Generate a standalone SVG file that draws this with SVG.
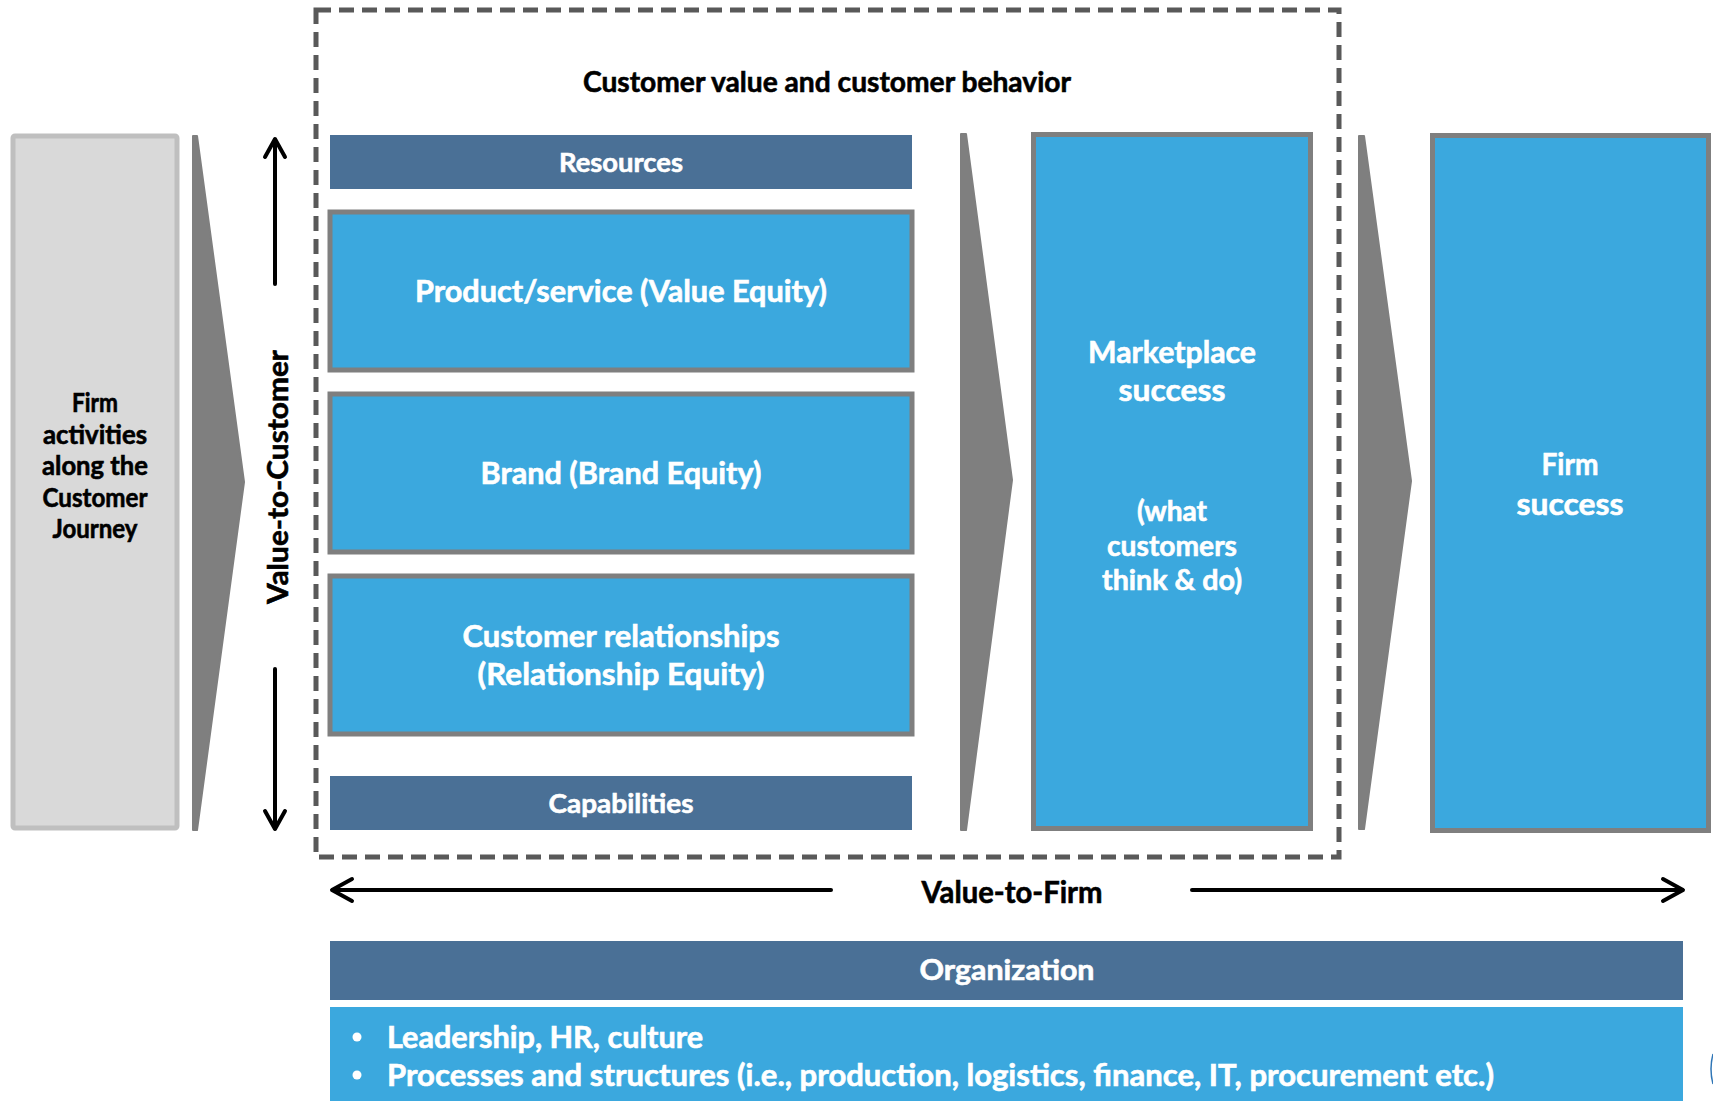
<svg xmlns="http://www.w3.org/2000/svg" width="1713" height="1101" viewBox="0 0 1713 1101">
<style>
text{font-family:Lato,"Open Sans","Liberation Sans",sans-serif;font-weight:700;stroke-width:0.6;}
.w{fill:#ffffff;}
text.w{stroke:#ffffff;}
.k{fill:#000000;}
text.k{stroke:#000000;}
.c{text-anchor:middle;}
.light{fill:#3ba8de;}
.dark{fill:#4a7096;}
.box{fill:#3ba8de;stroke:#7f7f7f;stroke-width:5;}
.chev{fill:#7f7f7f;stroke:#7f7f7f;stroke-width:2;stroke-linejoin:round;}
.arr{fill:none;stroke:#000;stroke-width:4;stroke-linecap:round;stroke-linejoin:round;}
</style>
<rect width="1713" height="1101" fill="#ffffff"/>

<g id="frame">
<rect x="316" y="10" width="1023" height="847" fill="none" stroke="#595959" stroke-width="5" stroke-dasharray="15 8"/>
<text class="k c" x="827" y="92" font-size="29" textLength="488" lengthAdjust="spacingAndGlyphs">Customer value and customer behavior</text>
</g>

<g id="firm-activities">
<rect x="13" y="136" width="164" height="692" rx="2" fill="#d9d9d9" stroke="#bfbfbf" stroke-width="5"/>
<text class="k c" font-size="26" x="95" y="412" textLength="46" lengthAdjust="spacingAndGlyphs">Firm</text>
<text class="k c" font-size="26" x="95" y="443.5" textLength="104" lengthAdjust="spacingAndGlyphs">activities</text>
<text class="k c" font-size="26" x="95" y="475" textLength="106" lengthAdjust="spacingAndGlyphs">along the</text>
<text class="k c" font-size="26" x="95" y="506.5" textLength="105" lengthAdjust="spacingAndGlyphs">Customer</text>
<text class="k c" font-size="26" x="95" y="538" textLength="85" lengthAdjust="spacingAndGlyphs">Journey</text>
</g>

<g id="value-to-customer">
<text class="k c" font-size="29" transform="translate(288,477) rotate(-90)" x="0" y="0" textLength="254" lengthAdjust="spacingAndGlyphs">Value-to-Customer</text>
</g>

<g id="resources">
<rect class="dark" x="330" y="135" width="582" height="54"/>
<text class="w c" font-size="27" x="621" y="172" textLength="124" lengthAdjust="spacingAndGlyphs">Resources</text>
</g>

<g id="product-service">
<rect class="box" x="330" y="212" width="582" height="158"/>
<text class="w c" font-size="30" x="621" y="302" textLength="412" lengthAdjust="spacingAndGlyphs">Product/service (Value Equity)</text>
</g>

<g id="brand">
<rect class="box" x="330" y="394" width="582" height="158"/>
<text class="w c" font-size="30" x="621" y="484" textLength="281" lengthAdjust="spacingAndGlyphs">Brand (Brand Equity)</text>
</g>

<g id="customer-relationships">
<rect class="box" x="330" y="576" width="582" height="158"/>
<text class="w c" font-size="30" x="621" y="647" textLength="317" lengthAdjust="spacingAndGlyphs">Customer relationships</text>
<text class="w c" font-size="30" x="621" y="685" textLength="287" lengthAdjust="spacingAndGlyphs">(Relationship Equity)</text>
</g>

<g id="capabilities">
<rect class="dark" x="330" y="776" width="582" height="54"/>
<text class="w c" font-size="27" x="621" y="813" textLength="145" lengthAdjust="spacingAndGlyphs">Capabilities</text>
</g>

<g id="marketplace-success">
<rect class="box" x="1033.5" y="134.5" width="277" height="694"/>
<text class="w c" font-size="31" x="1172" y="363" textLength="168" lengthAdjust="spacingAndGlyphs">Marketplace</text>
<text class="w c" font-size="31" x="1172" y="401" textLength="107" lengthAdjust="spacingAndGlyphs">success</text>
<text class="w c" font-size="28" x="1172" y="521" textLength="70" lengthAdjust="spacingAndGlyphs">(what</text>
<text class="w c" font-size="28" x="1172" y="556" textLength="130" lengthAdjust="spacingAndGlyphs">customers</text>
<text class="w c" font-size="28" x="1172" y="590" textLength="140" lengthAdjust="spacingAndGlyphs">think &amp; do)</text>
</g>

<g id="firm-success">
<rect class="box" x="1432.5" y="135.5" width="276" height="695"/>
<text class="w c" font-size="31" x="1570" y="475" textLength="57" lengthAdjust="spacingAndGlyphs">Firm</text>
<text class="w c" font-size="31" x="1570" y="515" textLength="107" lengthAdjust="spacingAndGlyphs">success</text>
</g>

<g id="value-to-firm">
<text class="k c" font-size="30" x="1012" y="903" textLength="181" lengthAdjust="spacingAndGlyphs">Value-to-Firm</text>
</g>

<g id="organization">
<rect class="dark" x="330" y="941" width="1353" height="59"/>
<text class="w c" font-size="28" x="1007" y="980" textLength="175" lengthAdjust="spacingAndGlyphs">Organization</text>
</g>

<g id="organization-details">
<rect class="light" x="330" y="1007" width="1353" height="94"/>
<circle class="w" cx="357" cy="1037" r="4.5"/>
<circle class="w" cx="357" cy="1075" r="4.5"/>
<text class="w" font-size="30" x="387" y="1048" textLength="316" lengthAdjust="spacingAndGlyphs">Leadership, HR, culture</text>
<text class="w" font-size="30" x="387" y="1086" textLength="1107" lengthAdjust="spacingAndGlyphs">Processes and structures (i.e., production, logistics, finance, IT, procurement etc.)</text>
</g>

<g id="edge-mark">
<path d="M1713,1054 Q1709,1069 1713,1084" fill="none" stroke="#2e75b6" stroke-width="1.5"/>
</g>

<g id="connectors">
<polygon class="chev" points="193,136 197,136 244,482 197,830 193,830"/>
<polygon class="chev" points="961,134 966,134 1012,480 966,830 961,830"/>
<polygon class="chev" points="1359,136 1364,136 1411,481 1364,829 1359,829"/>
<line class="arr" x1="275" y1="284" x2="275" y2="140"/>
<polyline class="arr" points="265,157 275,139 285,157"/>
<line class="arr" x1="275" y1="669" x2="275" y2="828"/>
<polyline class="arr" points="265,811 275,829 285,811"/>
<line class="arr" x1="333" y1="890" x2="831" y2="890"/>
<polyline class="arr" points="352,879 332,890 352,901"/>
<line class="arr" x1="1192" y1="890" x2="1682" y2="890"/>
<polyline class="arr" points="1663,879 1683,890 1663,901"/>
</g>
</svg>
